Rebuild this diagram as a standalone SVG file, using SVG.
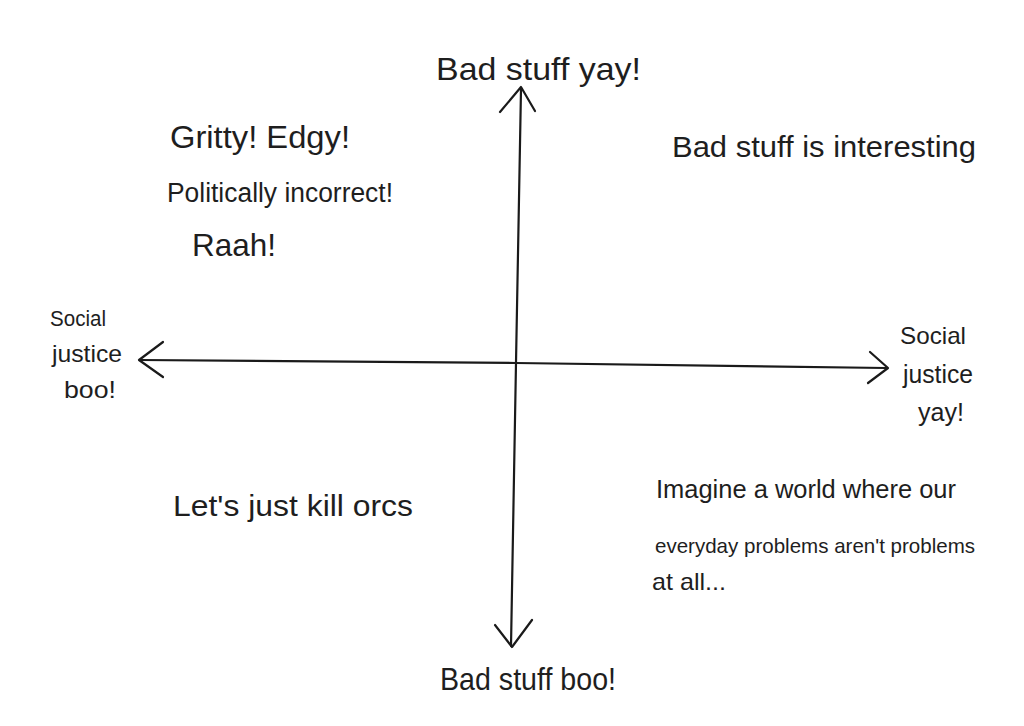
<svg xmlns="http://www.w3.org/2000/svg" width="1024" height="726" viewBox="0 0 1024 726">
<style>
.t{font-family:"Liberation Sans",Arial,sans-serif;fill:#1e1e1e;font-weight:normal}
.ax{stroke:#1a1a1a;stroke-width:2.2;fill:none;stroke-linecap:round;stroke-linejoin:round}
</style>
<rect width="1024" height="726" fill="#ffffff"/>
<g id="connectors">
<path class="ax" d="M521,89 L516,363 L511,646"/>
<path class="ax" d="M500,112 L521,87 L535,111"/>
<path class="ax" d="M495,625 L512,647 L532,620"/>
<path class="ax" d="M140,360 L516,363 L886,368"/>
<path class="ax" d="M163,342 L139,360 L163,377"/>
<path class="ax" d="M870,352 L888,368 L868,383"/>
</g>
<g id="top-label"><text class="t" x="436" y="80" font-size="32" textLength="205" lengthAdjust="spacingAndGlyphs">Bad stuff yay!</text></g>
<g id="bottom-label"><text class="t" x="440" y="690" font-size="32" textLength="176" lengthAdjust="spacingAndGlyphs">Bad stuff boo!</text></g>
<g id="left-label">
<text class="t" x="50" y="326" font-size="22" textLength="56" lengthAdjust="spacingAndGlyphs">Social</text>
<text class="t" x="52" y="362" font-size="24" textLength="70" lengthAdjust="spacingAndGlyphs">justice</text>
<text class="t" x="64" y="398" font-size="24" textLength="52" lengthAdjust="spacingAndGlyphs">boo!</text>
</g>
<g id="right-label">
<text class="t" x="900" y="344" font-size="24" textLength="66" lengthAdjust="spacingAndGlyphs">Social</text>
<text class="t" x="903" y="383" font-size="26" textLength="70" lengthAdjust="spacingAndGlyphs">justice</text>
<text class="t" x="918" y="421" font-size="26" textLength="46" lengthAdjust="spacingAndGlyphs">yay!</text>
</g>
<g id="quadrant-top-left">
<text class="t" x="170" y="148" font-size="32" textLength="180" lengthAdjust="spacingAndGlyphs">Gritty! Edgy!</text>
<text class="t" x="167" y="202" font-size="27" textLength="226" lengthAdjust="spacingAndGlyphs">Politically incorrect!</text>
<text class="t" x="192" y="256" font-size="32" textLength="84" lengthAdjust="spacingAndGlyphs">Raah!</text>
</g>
<g id="quadrant-top-right">
<text class="t" x="672" y="157" font-size="30" textLength="304" lengthAdjust="spacingAndGlyphs">Bad stuff is interesting</text>
</g>
<g id="quadrant-bottom-left">
<text class="t" x="173" y="516" font-size="30" textLength="240" lengthAdjust="spacingAndGlyphs">Let's just kill orcs</text>
</g>
<g id="quadrant-bottom-right">
<text class="t" x="656" y="498" font-size="25" textLength="300" lengthAdjust="spacingAndGlyphs">Imagine a world where our</text>
<text class="t" x="655" y="553" font-size="21" textLength="320" lengthAdjust="spacingAndGlyphs">everyday problems aren't problems</text>
<text class="t" x="652" y="590" font-size="24" textLength="74" lengthAdjust="spacingAndGlyphs">at all...</text>
</g>
</svg>
